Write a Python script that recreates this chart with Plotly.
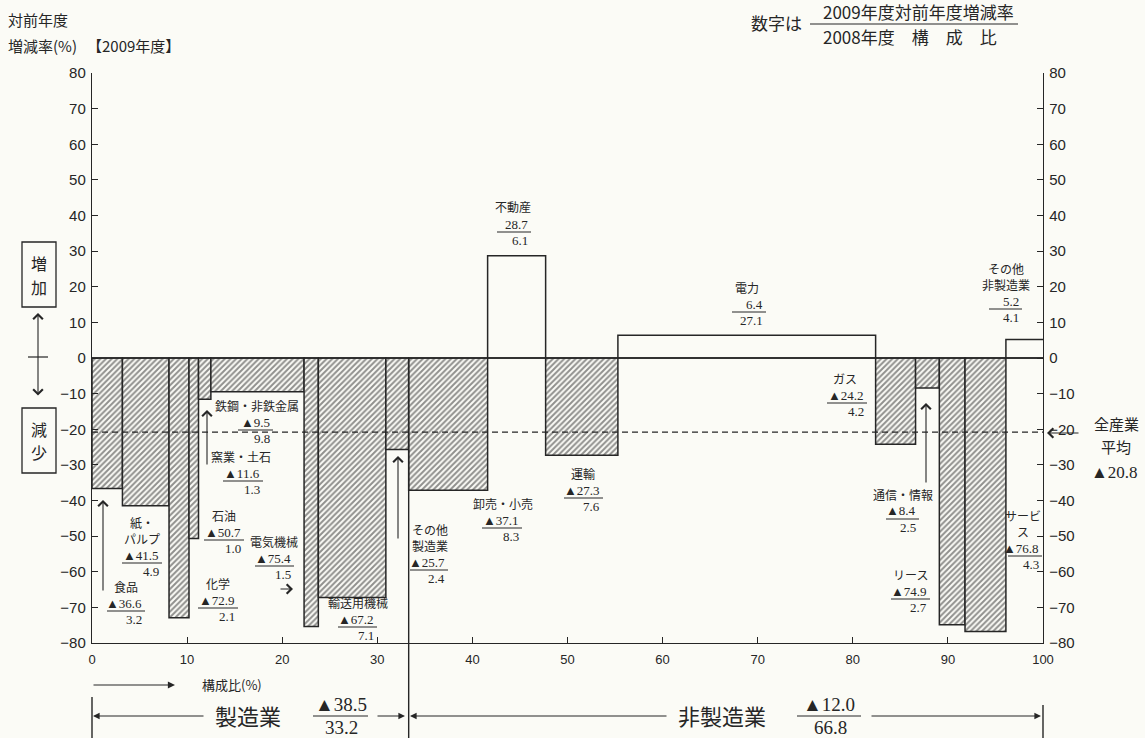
import numpy as np
import plotly.graph_objects as go

# ---------------- data ----------------
categories = ["食品", "紙・パルプ", "化学", "石油", "窯業・土石", "鉄鋼・非鉄金属", "電気機械",
              "輸送用機械", "その他製造業", "卸売・小売", "不動産", "運輸", "電力", "ガス",
              "通信・情報", "リース", "サービス", "その他非製造業"]
growth_2009 = [-36.6, -41.5, -72.9, -50.7, -11.6, -9.5, -75.4, -67.2, -25.7,
               -37.1, 28.7, -27.3, 6.4, -24.2, -8.4, -74.9, -76.8, 5.2]
share_2008 = [3.2, 4.9, 2.1, 1.0, 1.3, 9.8, 1.5, 7.1, 2.4,
              8.3, 6.1, 7.6, 27.1, 4.2, 2.5, 2.7, 4.3, 4.1]
group_names = ["製造業", "非製造業"]
group_growth = [-38.5, -12.0]
group_share = [33.2, 66.8]
all_industry_avg = -20.8
y_ticks = list(range(-80, 81, 10))
x_ticks = list(range(0, 101, 10))

# ---------------- layout constants ----------------
W, H = 1145, 738
L, R, T, B = 92, 1043, 73, 643
INK = "#262626"
BG = "#fbfbf6"
SANS = "Noto Sans CJK JP, Noto Sans, sans-serif"
SERIF = "Liberation Serif, Noto Sans CJK JP, serif"
TICKF = "Liberation Sans, Arial, sans-serif"

def px(x):
    return (x - L) / (R - L)

def py(y):
    return (B - y) / (B - T)

def fmt(v):
    return ("▲" if v < 0 else "") + f"{abs(v):.1f}"

# label placement (pixel layout): center x, fraction line y, line x0, line x1
label_pos = [
    (126, 611, 107, 145), (142, 563, 122, 162), (218, 608, 198, 238), (224, 540, 204, 244),
    (241, 481, 223, 263), (257, 430, 238, 273), (274, 566, 255, 294), (358, 627, 338, 377),
    (430, 570, 410, 448), (503, 528, 482, 522), (513, 232, 497, 531), (583, 498, 564, 603),
    (747, 312, 732, 766), (845, 403, 827, 867), (903, 519, 886, 919), (910, 599, 891, 930),
    (1023, 556, 1008, 1042), (1006, 309, 989, 1022),
]
label_lines = {1: ["紙・", "パルプ"], 8: ["その他", "製造業"], 16: ["サービ", "ス"], 17: ["その他", "非製造業"]}

# ---------------- bars ----------------
widths = np.array(share_2008)
right_edges = np.cumsum(widths)
left_edges = right_edges - widths
centers = left_edges + widths / 2
patterns = ["/" if v < 0 else "" for v in growth_2009]

fig = go.Figure()
fig.add_trace(go.Bar(
    x=centers, y=growth_2009, width=widths,
    marker=dict(color=BG, line=dict(color=INK, width=1.5),
                pattern=dict(shape=patterns, fgcolor=INK, bgcolor=BG, size=4, solidity=0.5)),
    hoverinfo="skip", showlegend=False,
))
fig.add_trace(go.Scatter(x=[50], y=[0], yaxis="y2", mode="markers",
                         marker=dict(opacity=0), hoverinfo="skip", showlegend=False))

shapes = []
ann = []

def txt(x, y, s, size, family=SANS, xanchor="center"):
    ann.append(dict(x=px(x), y=py(y), xref="paper", yref="paper", text=s, showarrow=False,
                    xanchor=xanchor, yanchor="middle", borderpad=0,
                    font=dict(size=size, family=family, color=INK)))

def line(x0, y0, x1, y1, w=1.2):
    shapes.append(dict(type="line", xref="paper", yref="paper", x0=px(x0), y0=py(y0),
                       x1=px(x1), y1=py(y1), line=dict(color=INK, width=w)))

def arrow(hx, hy, tx, ty, head=4, size=1.7, w=1.1, both=False):
    ann.append(dict(x=px(hx), y=py(hy), xref="paper", yref="paper", text="", showarrow=True,
                    ax=tx - hx, ay=ty - hy, axref="pixel", ayref="pixel",
                    arrowhead=head, startarrowhead=head, arrowsize=size, startarrowsize=size,
                    arrowwidth=w, arrowcolor=INK, standoff=0, startstandoff=0,
                    arrowside="end+start" if both else "end"))

# zero line and all-industry average line
shapes.append(dict(type="line", xref="x", yref="y", x0=0, x1=100, y0=0, y1=0, layer="above",
                   line=dict(color=INK, width=1.3)))
shapes.append(dict(type="line", xref="x", yref="y", x0=0, x1=100, y0=all_industry_avg,
                   y1=all_industry_avg, layer="above", line=dict(color=INK, width=1.3, dash="6px,4px")))

# separator between manufacturing and non-manufacturing
sep = right_edges[8]
shapes.append(dict(type="line", xref="paper", yref="paper", x0=sep / 100, x1=sep / 100,
                   y0=py(740), y1=py(358), line=dict(color=INK, width=1.4)))

# category labels
for i, (cx, ly, x0, x1) in enumerate(label_pos):
    names = label_lines.get(i, [categories[i]])
    n = len(names)
    txt(cx, ly - 25 - 15.6 * (n - 1) / 2, "<br>".join(names), 12)
    txt(x1 - 2, ly - 8, fmt(growth_2009[i]), 13, SERIF, "right")
    txt(x1 - 2, ly + 8, f"{share_2008[i]:.1f}", 13, SERIF, "right")
    line(x0, ly, x1, ly, 1.1)

# arrows pointing at bars
arrow(103, 500, 103, 592)
arrow(207, 410, 207, 466)
arrow(293, 589, 279, 589)
arrow(398, 456, 398, 540)
arrow(926, 403, 926, 484)

# all-industry average annotation
txt(1116, 423, "全産業", 15)
txt(1116, 446, "平均", 15)
txt(1114, 472, fmt(all_industry_avg), 17, SERIF)
arrow(1047, 433, 1080, 433)

# left side 増加 / 減少 boxes
shapes.append(dict(type="rect", xref="paper", yref="paper", x0=px(22), x1=px(56), y0=py(307), y1=py(242),
                   line=dict(color=INK, width=1.3)))
shapes.append(dict(type="rect", xref="paper", yref="paper", x0=px(22), x1=px(56), y0=py(473), y1=py(408),
                   line=dict(color=INK, width=1.3)))
txt(39, 263, "増", 16)
txt(39, 287, "加", 16)
txt(39, 429, "減", 16)
txt(39, 452, "少", 16)
arrow(38, 313, 38, 397, both=True)
line(28, 357, 48, 357)

# headers
txt(7, 20, "対前年度", 15, xanchor="left")
txt(7, 45, "増減率(%)", 15, xanchor="left")
txt(86, 45, "【2009年度】", 15, xanchor="left")
txt(776, 23, "数字は", 17)
txt(918, 12, "2009年度対前年度増減率", 17)
line(810, 24, 1018, 24, 1.2)
txt(910, 36, "2008年度　構　成　比", 17)

# bottom: composition ratio arrow
arrow(175, 685, 92, 685, head=2, size=1.3, w=1.1)
txt(232, 684, "構成比(%)", 13)

# bottom brackets
yb = 716
line(92, 697, 92, 740, 1.4)
line(1043, 705, 1043, 740, 1.4)
arrow(93, yb, 205, yb, head=2, size=1.2, w=1.1)
txt(248, yb - 1, group_names[0], 22)
txt(341, yb - 12, fmt(group_growth[0]), 19, SERIF)
line(313, yb, 368, yb, 1.2)
txt(341, yb + 11, f"{group_share[0]:.1f}", 19, SERIF)
arrow(405, yb, 376, yb, head=2, size=1.2, w=1.1)
arrow(410, yb, 668, yb, head=2, size=1.2, w=1.1)
txt(722, yb - 1, group_names[1], 22)
txt(829, yb - 12, fmt(group_growth[1]), 19, SERIF)
line(797, yb, 861, yb, 1.2)
txt(830, yb + 11, f"{group_share[1]:.1f}", 19, SERIF)
arrow(1041, yb, 870, yb, head=2, size=1.2, w=1.1)

axis_common = dict(showgrid=False, zeroline=False, showline=True, linecolor=INK, linewidth=1.4,
                   ticks="inside", ticklen=6, tickwidth=1.2, tickcolor=INK)

fig.update_layout(
    width=W, height=H,
    margin=dict(l=L, r=W - R, t=T, b=H - B),
    paper_bgcolor=BG, plot_bgcolor=BG,
    showlegend=False,
    xaxis=dict(range=[0, 100], tickvals=x_ticks, ticktext=[str(v) for v in x_ticks],
               tickfont=dict(size=13, family=TICKF, color=INK), ticklabelstandoff=4, **axis_common),
    yaxis=dict(range=[-80, 80], tickvals=y_ticks, tickfont=dict(size=15, family=TICKF, color=INK),
               ticklabelstandoff=2, **axis_common),
    yaxis2=dict(range=[-80, 80], tickvals=y_ticks, overlaying="y", side="right",
                tickfont=dict(size=15, family=TICKF, color=INK), ticklabelstandoff=2, **axis_common),
    shapes=shapes,
    annotations=ann,
)

fig.write_html("out.html", config={"displayModeBar": False},
               post_script="document.body.style.margin='0';document.body.style.overflow='hidden';"
                           "document.body.style.background='" + BG + "';")
